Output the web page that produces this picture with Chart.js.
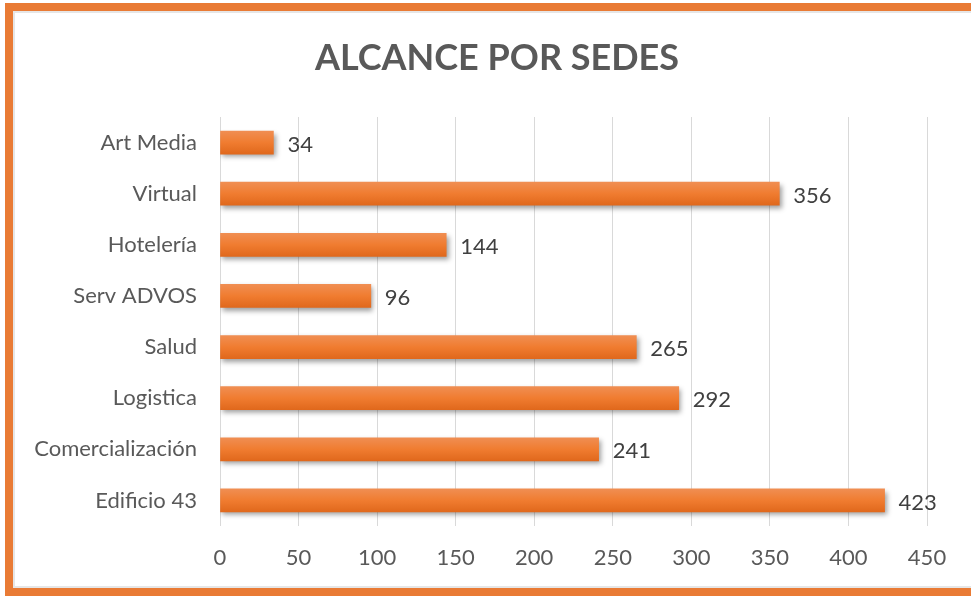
<!DOCTYPE html>
<html>
<head>
<meta charset="utf-8">
<script src="https://cdn.jsdelivr.net/npm/chart.js@4.4.1/dist/chart.umd.min.js"></script>
<style>
  html, body { margin: 0; padding: 0; background: #fff; width: 971px; height: 596px; overflow: hidden; }
  #frame { position: absolute; left: 5px; top: 3px; width: 990px; height: 577px; border: 8px solid #E97B35; box-sizing: content-box; }
  #frame::after { content: ''; position: absolute; left: 0; top: 0; right: 0; bottom: 0; border-left: 2px solid #e6e6e6; border-top: 2px solid #e6e6e6; border-bottom: 2px solid #e6e6e6; }
  #wrap { position: absolute; left: 0; top: 0; width: 971px; height: 596px; }
</style>
</head>
<body>
<div id="frame"></div>
<div id="wrap"><canvas id="c" width="971" height="596"></canvas></div>
<script>
const titleText = "ALCANCE POR SEDES";
const categories = ["Art Media", "Virtual", "Hotelería", "Serv ADVOS", "Salud", "Logistica", "Comercialización", "Edificio 43"];
const values = [34, 356, 144, 96, 265, 292, 241, 423];
const xTicks = [0, 50, 100, 150, 200, 250, 300, 350, 400, 450];

const FONT = "Lato, 'Open Sans', sans-serif";

const effects = {
  id: 'effects',
  beforeDatasetsDraw(chart) {
    const ctx = chart.ctx;
    ctx.save();
    ctx.shadowColor = 'rgba(0,0,0,0.38)';
    ctx.shadowBlur = 5;
    ctx.shadowOffsetX = 2;
    ctx.shadowOffsetY = 3;
  },
  afterDatasetsDraw(chart) {
    const ctx = chart.ctx;
    ctx.restore();
    const meta = chart.getDatasetMeta(0);
    ctx.save();
    ctx.font = "22px " + FONT;
    ctx.fillStyle = '#404040';
    ctx.textBaseline = 'middle';
    ctx.textAlign = 'left';
    meta.data.forEach((bar, i) => {
      ctx.fillText(String(values[i]), bar.x + 14, bar.y + 2);
    });
    ctx.restore();
  },
  afterDraw(chart) {
    const ctx = chart.ctx;
    ctx.save();
    ctx.font = "bold 36px " + FONT;
    ctx.fillStyle = '#595959';
    ctx.textAlign = 'center';
    ctx.textBaseline = 'middle';
    ctx.fillText(titleText, 497, 58);
    ctx.restore();
  }
};

new Chart(document.getElementById('c'), {
  type: 'bar',
  data: {
    labels: categories,
    datasets: [{
      data: values,
      barThickness: 23,
      borderWidth: 0,
      backgroundColor(context) {
        const chart = context.chart;
        const ys = chart.scales.y;
        if (!ys || context.dataIndex === undefined) return '#EC7A30';
        const yc = ys.getPixelForTick(context.dataIndex);
        const g = chart.ctx.createLinearGradient(0, yc - 11.5, 0, yc + 11.5);
        g.addColorStop(0, '#F08E52');
        g.addColorStop(0.5, '#F07C30');
        g.addColorStop(1, '#E0681C');
        return g;
      }
    }]
  },
  options: {
    indexAxis: 'y',
    responsive: false,
    animation: false,
    devicePixelRatio: 1,
    layout: { padding: { top: 117, right: 44, bottom: 0, left: 0 } },
    plugins: { legend: { display: false }, title: { display: false }, tooltip: { enabled: false } },
    scales: {
      x: {
        min: 0, max: 450,
        afterBuildTicks(scale) { scale.ticks = xTicks.map(v => ({ value: v })); },
        afterFit(scale) { scale.height = 70; },
        grid: { color: '#D9D9D9', lineWidth: 1, drawTicks: false },
        border: { display: false },
        ticks: { color: '#595959', font: { family: FONT, size: 22 }, padding: 19 }
      },
      y: {
        afterFit(scale) { scale.width = 220; },
        grid: { display: false, drawTicks: false },
        border: { display: false },
        ticks: { color: '#595959', font: { family: FONT, size: 22 }, padding: 23 }
      }
    }
  },
  plugins: [effects]
});
</script>
</body>
</html>
